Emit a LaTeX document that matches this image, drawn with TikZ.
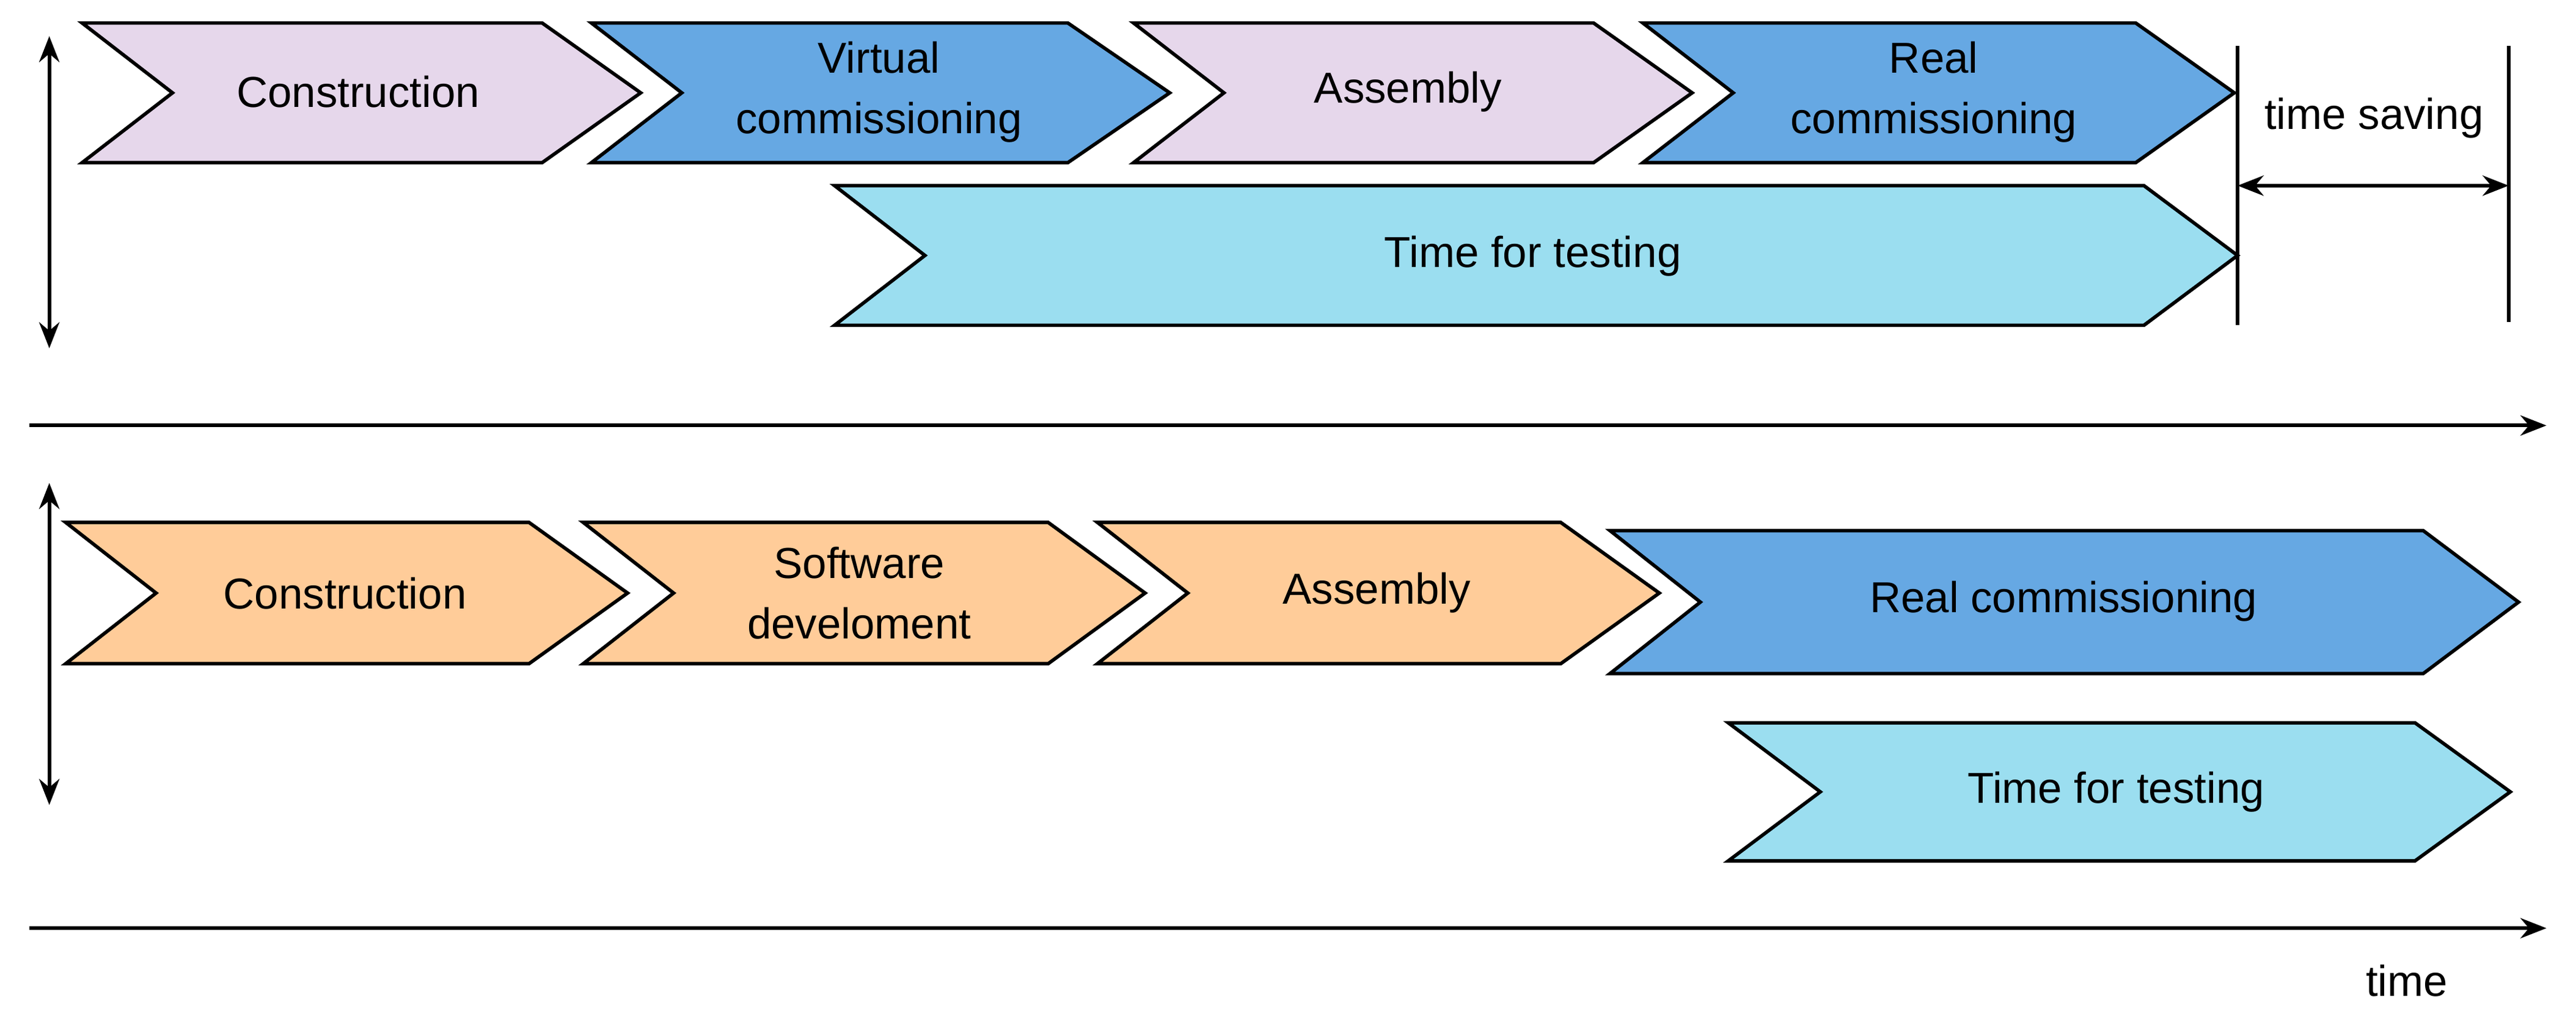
\documentclass[tikz,border=0pt]{standalone}
\usepackage{fontspec}
\usetikzlibrary{arrows.meta}
\setmainfont{Liberation Sans}
\begin{document}
\definecolor{lav}{RGB}{230,215,235}
\definecolor{blu}{RGB}{102,168,227}
\definecolor{cya}{RGB}{155,222,240}
\definecolor{ora}{RGB}{255,204,153}
\begin{tikzpicture}[x=0.02cm,y=-0.02cm,
  chev/.style={draw=black,line width=1.2pt,line join=miter},
  lbl/.style={font=\fontsize{15}{21}\selectfont,align=center},
  arr/.style={line width=1.3pt,-{Stealth[length=9pt,width=7pt]}},
  darr/.style={line width=1.3pt,{Stealth[length=9pt,width=7pt]}-{Stealth[length=9pt,width=7pt]}}]
\useasboundingbox (0,0) rectangle (1568,623);
% chevron: left, right, top, bottom, notch depth, tip depth
\newcommand{\mychev}[7]{\filldraw[chev,fill=#7] (#1,#3) -- (#2,#3) -- (#2+#6,{(#3+#4)/2}) -- (#2,#4) -- (#1,#4) -- (#1+#5,{(#3+#4)/2}) -- cycle;}
% top row
\mychev{50}{330}{14}{99}{55}{60}{lav}
\mychev{360}{650}{14}{99}{55}{62}{blu}
\mychev{690}{970}{14}{99}{55}{60}{lav}
\mychev{1000}{1300}{14}{99}{55}{60}{blu}
\mychev{508}{1305}{113}{198}{55}{57}{cya}
\node[lbl] (c1) at (218,56) {Construction};
\node[lbl] (v1) at (535,56) {Virtual\\commissioning};
\node[lbl] (a1) at (857,56) {Assembly};
\node[lbl] (r1) at (1177,56) {Real\\commissioning};
\node[lbl] (t1) at (933,156) {Time for testing};
\coordinate (l1t) at (1362,28); \coordinate (l1b) at (1362,198);
\coordinate (l2t) at (1527,28); \coordinate (l2b) at (1527,196);
\draw[line width=1.2pt] (l1t) -- (l1b);
\draw[line width=1.2pt] (l2t) -- (l2b);
\coordinate (s1) at (1362,113); \coordinate (s2) at (1527,113);
\draw[darr] (s1) -- (s2);
\node[lbl] (ts) at (1445,72) {time saving};
\coordinate (va) at (30,22); \coordinate (vb) at (30,212);
\draw[darr] (va) -- (vb);
\coordinate (h1a) at (18,259); \coordinate (h1b) at (1550,259);
\draw[arr] (h1a) -- (h1b);
% bottom row
\mychev{40}{322}{318}{404}{55}{60}{ora}
\mychev{355}{638}{318}{404}{55}{59}{ora}
\mychev{668}{950}{318}{404}{55}{60}{ora}
\mychev{980}{1475}{323}{410}{55}{58}{blu}
\mychev{1052}{1470}{440}{524}{56}{58}{cya}
\node[lbl] (c2) at (210,361) {Construction};
\node[lbl] (s2l) at (523,361) {Software\\develoment};
\node[lbl] (a2) at (838,361) {Assembly};
\node[lbl] (r2) at (1256,366) {Real commissioning};
\node[lbl] (t2) at (1288,482) {Time for testing};
\coordinate (vc) at (30,294); \coordinate (vd) at (30,490);
\draw[darr] (vc) -- (vd);
\coordinate (h2a) at (18,565); \coordinate (h2b) at (1550,565);
\draw[arr] (h2a) -- (h2b);
\node[lbl] (tm) at (1465,597) {time};
\end{tikzpicture}
\end{document}
